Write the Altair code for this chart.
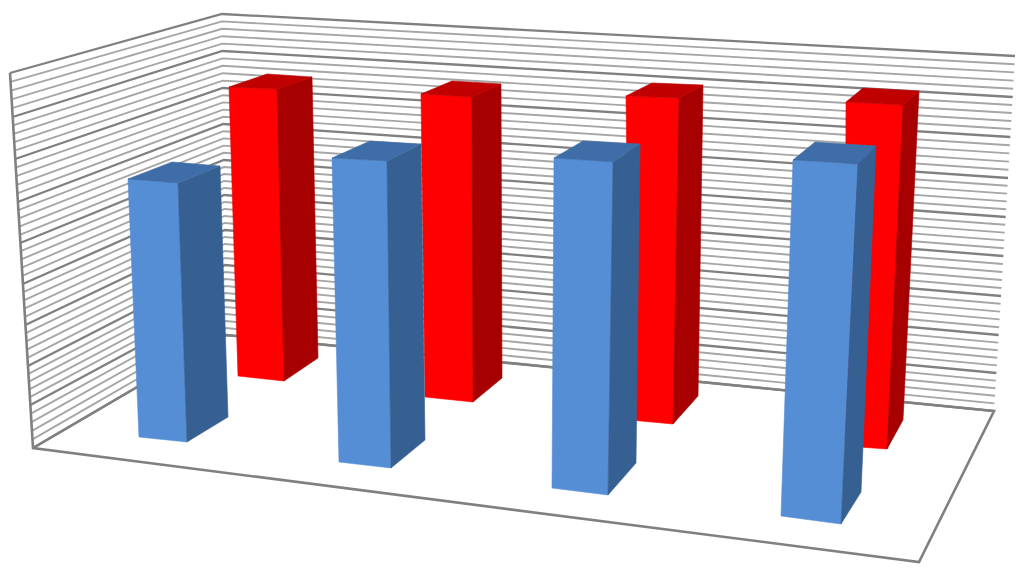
import altair as alt
import pandas as pd

# Wall gridline anchors: y at the left edge, back corner and right edge, one per major line
left_y = [73, 117, 159, 202, 243, 284, 325, 366, 405, 448]
corner_y = [14, 51, 88, 124, 160, 195, 230, 265, 300, 335]
right_y = [56, 97, 137, 178, 217, 256, 296, 335, 373, 411]
left_x = [10, 33]
corner_x = [222, 226]
right_x = [1015, 994]
minor_per_major = 5

floor_outline = [(10, 73), (33, 448), (919, 562), (994, 411), (226, 335), (33, 448)]

# Projected corners of each bar: front face, side face, top face
red_bars = [
    dict(front=[(229, 87), (277, 89), (284, 381), (238, 376)],
         side=[(277, 89), (312, 77), (318, 358), (284, 381)],
         top=[(229, 87), (267, 74), (312, 77), (277, 89)]),
    dict(front=[(421, 94), (472, 97), (473, 402), (425, 397)],
         side=[(472, 97), (501, 84), (502, 378), (473, 402)],
         top=[(421, 94), (452, 81), (501, 84), (472, 97)]),
    dict(front=[(626, 96), (679, 98), (673, 424), (630, 420)],
         side=[(679, 98), (703, 85), (698, 396), (673, 424)],
         top=[(626, 96), (652, 83), (703, 85), (679, 98)]),
    dict(front=[(846, 102), (903, 105), (887, 449), (845, 446)],
         side=[(903, 105), (919, 91), (903, 420), (887, 449)],
         top=[(846, 102), (863, 88), (919, 91), (903, 105)]),
]
blue_bars = [
    dict(front=[(128, 179), (178, 183), (187, 442), (139, 437)],
         side=[(178, 183), (220, 166), (228, 417), (187, 442)],
         top=[(128, 179), (172, 162), (220, 166), (178, 183)]),
    dict(front=[(332, 158), (387, 161), (391, 468), (339, 462)],
         side=[(387, 161), (421, 144), (425, 440), (391, 468)],
         top=[(332, 158), (370, 141), (421, 144), (387, 161)]),
    dict(front=[(554, 158), (613, 162), (608, 495), (552, 488)],
         side=[(613, 162), (640, 144), (636, 463), (608, 495)],
         top=[(554, 158), (583, 141), (640, 144), (613, 162)]),
    dict(front=[(793, 160), (858, 164), (841, 524), (781, 516)],
         side=[(858, 164), (876, 146), (861, 492), (841, 524)],
         top=[(793, 160), (815, 142), (876, 146), (858, 164)]),
]
red_colors = dict(front="#FF0000", side="#A60000", top="#C00000")
blue_colors = dict(front="#558ED5", side="#376092", top="#3F6DA8")

MAJOR = "#808080"
MINOR = "#A6A6A6"


def blend(a, b, t):
    return a + (b - a) * t


grid_rows = []
n_major = len(left_y) - 1
n_lines = n_major * minor_per_major + 1
for k in range(n_lines):
    m, r = divmod(k, minor_per_major)
    if m == n_major:
        m, r = n_major - 1, minor_per_major
    t = r / minor_per_major
    f = k / (n_lines - 1)
    is_major = k % minor_per_major == 0
    for j, (xs, ys) in enumerate(((left_x, left_y), (corner_x, corner_y), (right_x, right_y))):
        grid_rows.append(dict(
            line=k, i=j,
            x=blend(xs[0], xs[1], f),
            y=blend(ys[m], ys[m + 1], t),
            color=MAJOR if is_major else MINOR,
            w=2.3 if is_major else 1.9,
        ))
grid_df = pd.DataFrame(grid_rows)

outline_df = pd.DataFrame([dict(i=i, x=p[0], y=p[1]) for i, p in enumerate(floor_outline)])

face_rows = []
for series, bars, colors in (("red", red_bars, red_colors), ("blue", blue_bars, blue_colors)):
    for b, bar in enumerate(bars):
        for face in ("front", "side", "top"):
            for i, p in enumerate(bar[face]):
                face_rows.append(dict(face=f"{series}{b}{face}", i=i, x=p[0], y=p[1], color=colors[face]))
faces_df = pd.DataFrame(face_rows)

x_enc = alt.X("x:Q", scale=alt.Scale(domain=[8, 1016], nice=False, zero=False), axis=None)
y_enc = alt.Y("y:Q", scale=alt.Scale(domain=[573, 8], nice=False, zero=False), axis=None)

grid = alt.Chart(grid_df).mark_line().encode(
    x=x_enc, y=y_enc, detail="line:N", order="i:Q",
    stroke=alt.Stroke("color:N", scale=None),
    strokeWidth=alt.StrokeWidth("w:Q", scale=None),
)
outline = alt.Chart(outline_df).mark_line(stroke=MAJOR, strokeWidth=2.6).encode(
    x=x_enc, y=y_enc, order="i:Q",
)
faces = alt.Chart(faces_df).mark_line(interpolate="linear-closed", strokeWidth=0.6).encode(
    x=x_enc, y=y_enc, detail="face:N", order="i:Q",
    fill=alt.Fill("color:N", scale=None),
    stroke=alt.Stroke("color:N", scale=None),
)

chart = (grid + outline + faces).properties(
    width=1008, height=565, padding=0, autosize=alt.AutoSizeParams(type="none"),
).configure_view(stroke=None)

chart.save("out.html", embed_options={"renderer": "svg", "actions": False})
